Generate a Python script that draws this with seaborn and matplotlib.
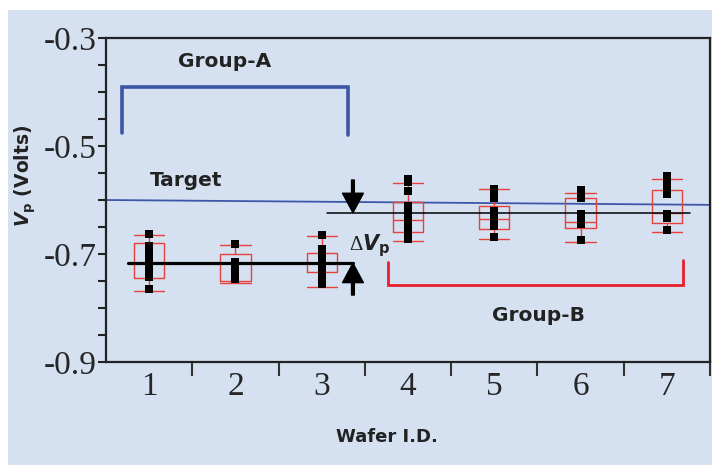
import numpy as np
import pandas as pd
import matplotlib
matplotlib.use("Agg")
import matplotlib.pyplot as plt
from matplotlib.patches import Rectangle
import seaborn as sns

# ---- data -------------------------------------------------------------
wafers = ["1", "2", "3", "4", "5", "6", "7"]

# individual Vp readings per wafer (Volts)
readings = {
    "1": [-0.663, -0.686, -0.694, -0.702, -0.710, -0.718, -0.726, -0.734, -0.742, -0.765],
    "2": [-0.681, -0.714, -0.722, -0.730, -0.739, -0.747],
    "3": [-0.665, -0.690, -0.698, -0.706, -0.714, -0.722, -0.730, -0.738, -0.746, -0.756],
    "4": [-0.562, -0.567, -0.584, -0.612, -0.620, -0.628, -0.636, -0.644, -0.652, -0.660, -0.667, -0.673],
    "5": [-0.579, -0.593, -0.597, -0.621, -0.628, -0.635, -0.642, -0.649, -0.669],
    "6": [-0.582, -0.590, -0.597, -0.625, -0.632, -0.638, -0.644, -0.674],
    "7": [-0.555, -0.563, -0.571, -0.579, -0.588, -0.625, -0.634, -0.655],
}

# box statistics per wafer
box_whishi = [-0.665, -0.683, -0.667, -0.5685, -0.580, -0.587, -0.561]
box_q3     = [-0.680, -0.700, -0.698, -0.604, -0.611, -0.596, -0.581]
box_med    = [-0.717, -0.717, -0.717, -0.637, -0.635, -0.641, -0.624]
box_q1     = [-0.744, -0.750, -0.733, -0.659, -0.654, -0.652, -0.643]
box_whislo = [-0.768, -0.753, -0.761, -0.676, -0.672, -0.678, -0.659]

target_vp = [-0.600, -0.609]      # target reference line (left end, right end)
group_a_level = -0.717            # mean Vp of Group-A
group_b_level = -0.6235           # mean Vp of Group-B
group_a_span = [-0.315, 2.304]
group_b_span = [2.768, 6.186]
group_a_bracket = [-0.391, -0.476]
group_b_bracket = [-0.715, -0.757]

# ---- styling ----------------------------------------------------------
sns.set_theme(style="ticks")
bg = "#d5e1f1"
plt.rcParams["font.family"] = ["DejaVu Sans"]
plt.rcParams["axes.unicode_minus"] = False
plt.rcParams["mathtext.fontset"] = "custom"
plt.rcParams["mathtext.it"] = "DejaVu Sans:bold:italic"
plt.rcParams["mathtext.bf"] = "DejaVu Sans:bold"
plt.rcParams["mathtext.rm"] = "Liberation Serif"

fig = plt.figure(figsize=(7.12, 4.65), dpi=100, facecolor="white")
fig.add_artist(Rectangle((8 / 712, 0), 1, 1 - 10 / 465, transform=fig.transFigure,
                         facecolor=bg, edgecolor="none", zorder=-10))
ax = fig.add_axes([106 / 712, 1 - 362 / 465, 604 / 712, 324 / 465])
ax.set_facecolor(bg)

long = pd.DataFrame([(w, v) for w in wafers for v in readings[w]], columns=["wafer", "vp"])

# boxes
red = "#e8403c"
stats = [dict(med=m, q1=a, q3=b, whislo=lo, whishi=hi, fliers=[])
         for m, a, b, lo, hi in zip(box_med, box_q1, box_q3, box_whislo, box_whishi)]
lp = dict(color=red, linewidth=1.0)
ax.bxp(stats, positions=np.arange(len(wafers)), widths=0.35, capwidths=0.35,
       showfliers=False, boxprops=lp, whiskerprops=lp, capprops=lp, medianprops=lp,
       manage_ticks=False, zorder=3)

# individual readings
sns.stripplot(data=long, x="wafer", y="vp", order=wafers, jitter=False, marker="s",
              size=5.8, color="black", linewidth=0, ax=ax, zorder=4)

# target line
ax.plot([-0.5, 6.5], target_vp, color="#3d57a8", linewidth=1.3, zorder=2)

# group mean lines
ax.plot([-0.245, 2.362], [group_a_level] * 2, color="black", linewidth=2.3, zorder=5)
ax.plot([2.06, 6.27], [group_b_level] * 2, color="black", linewidth=1.1, zorder=5)

# brackets
ax.plot([group_a_span[0], group_a_span[0], group_a_span[1], group_a_span[1]],
        [group_a_bracket[1], group_a_bracket[0], group_a_bracket[0], group_a_bracket[1] - 0.003],
        color="#3c55a5", linewidth=2.6, solid_joinstyle="miter", zorder=2)
ax.plot([group_b_span[0], group_b_span[0], group_b_span[1], group_b_span[1]],
        [group_b_bracket[0], group_b_bracket[1], group_b_bracket[1], group_b_bracket[0] + 0.004],
        color="#e8202a", linewidth=2.0, solid_joinstyle="miter", zorder=2)

# delta-Vp arrows
arr = dict(facecolor="black", edgecolor="black", width=2.0, headwidth=15, headlength=14, shrink=0)
ax.annotate("", xy=(2.362, group_b_level), xytext=(2.362, -0.563), arrowprops=arr, zorder=6)
ax.annotate("", xy=(2.362, group_a_level), xytext=(2.362, -0.776), arrowprops=arr, zorder=6)

# annotations
tk = dict(fontsize=14.5, fontweight="bold", color="#222222", ha="center", va="center")
ax.text(0.879, -0.344, "Group-A", **tk)
ax.text(0.427, -0.563, "Target", **tk)
ax.text(4.506, -0.813, "Group-B", **tk)
ax.text(2.316, -0.685, r"$\Delta V_{\mathbf{p}}$", fontsize=15, color="#222222",
        ha="left", va="center")

# axes
ax.set_xlim(-0.5, 6.5)
ax.set_ylim(-0.9, -0.3)
ax.set_yticks([-0.9, -0.7, -0.5, -0.3])
ax.set_yticklabels(["-0.9", "-0.7", "-0.5", "-0.3"])
ax.set_yticks(np.arange(-0.9, -0.29, 0.05), minor=True)
ax.set_xticks(range(len(wafers)))
ax.set_xticklabels(wafers)
ax.set_xticks(np.arange(0.5, 6.6, 1.0), minor=True)

for lab in ax.get_xticklabels() + ax.get_yticklabels():
    lab.set_family("Liberation Serif")
    lab.set_fontsize(24)
ax.tick_params(axis="x", which="major", length=0, pad=7)
ax.tick_params(axis="x", which="minor", length=10, width=1.5, direction="out", color="#333333")
ax.tick_params(axis="y", which="both", length=6, width=1.5, direction="out", pad=1, color="#222222")
for s in ax.spines.values():
    s.set_visible(True)
    s.set_linewidth(1.6)
    s.set_color("#222222")

ax.set_xlabel("Wafer I.D.", fontsize=13, fontweight="bold", color="#222222")
ax.xaxis.set_label_coords(0.465, -0.205)
ax.set_ylabel(r"$V_{\mathbf{p}}$ (Volts)", fontsize=13.5, fontweight="bold", color="#222222")
ax.yaxis.set_label_coords(-0.112, 0.575)

fig.savefig("out.png", dpi=100, facecolor=fig.get_facecolor())
